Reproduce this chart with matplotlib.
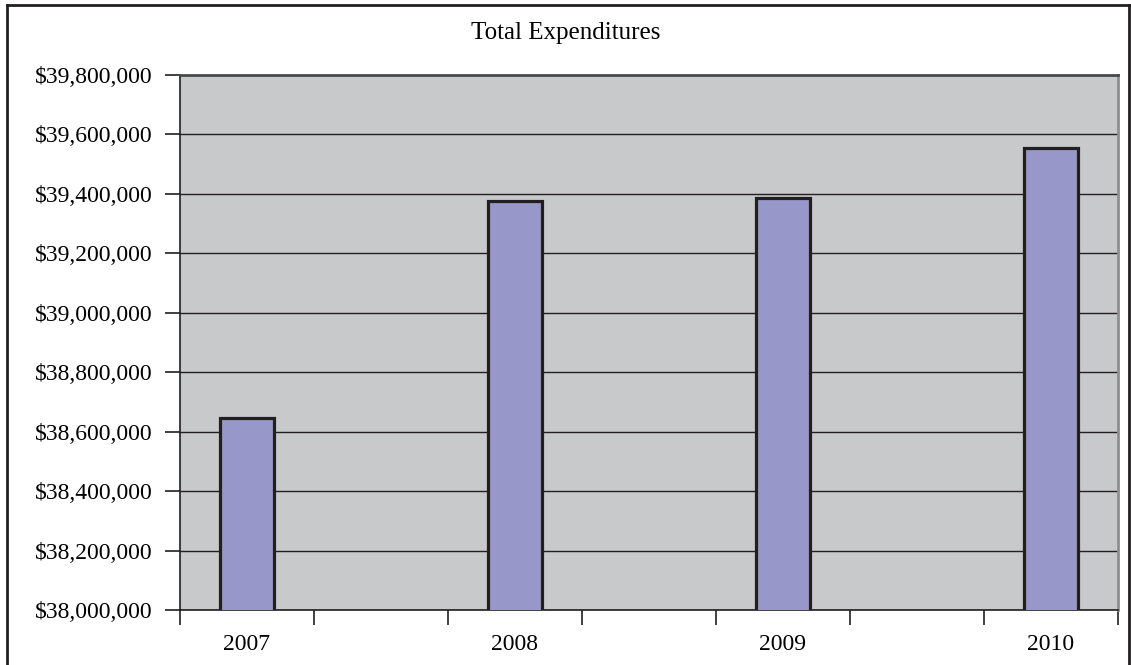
import matplotlib.pyplot as plt
from matplotlib.lines import Line2D
from matplotlib.ticker import FuncFormatter, MultipleLocator

plt.rcParams['font.family'] = ['Liberation Serif', 'DejaVu Serif']

# データ
years = ['2007', '2008', '2009', '2010']
expenditures = [38646000, 39377000, 39387000, 39554000]
slots = [0, 2, 4, 6]  # 7スロットの日付軸のうち棒があるところ

fig = plt.figure(figsize=(11.31, 6.65), dpi=100)
ax = fig.add_axes([180 / 1131, 1 - 610 / 665, (1118 - 180) / 1131, (610 - 75) / 665])
ax.set_facecolor('#C8C9CB')

ax.bar(slots, expenditures, width=0.41, bottom=0, color='#9797C9',
       edgecolor='#231F20', linewidth=2.3, zorder=3)

ax.set_ylim(38000000, 39800000)
ax.set_xlim(-0.5, 6.5)
ax.yaxis.set_major_locator(MultipleLocator(200000))
ax.yaxis.set_major_formatter(FuncFormatter(lambda v, p: '${:,.0f}'.format(v)))
ax.grid(axis='y', color='#231F20', linewidth=1.0, zorder=1)

ax.set_xticks([s - 0.5 for s in range(8)], minor=True)
ax.set_xticks(slots)
ax.set_xticklabels(years)
ax.tick_params(axis='x', which='major', length=0, pad=17, labelsize=17)
ax.tick_params(axis='x', which='minor', length=11, width=1.2, direction='out', color='#231F20')
ax.tick_params(axis='y', length=11, width=1.2, color='#231F20', pad=9, labelsize=17)

for side in ['left', 'bottom']:
    ax.spines[side].set_color('#231F20')
    ax.spines[side].set_linewidth(1.2)
for side in ['top', 'right']:
    ax.spines[side].set_color('#8E8E8E')
    ax.spines[side].set_linewidth(2.0)
ax.spines['top'].set_color('#4A4A4A')

fig.text(0.5, 1 - 33 / 665, 'Total Expenditures', ha='center', va='center', fontsize=18)

# 外枠
fig.add_artist(Line2D([7 / 1131, 7 / 1131], [0, 1 - 5 / 665], transform=fig.transFigure, color='#231F20', lw=2))
fig.add_artist(Line2D([7 / 1131, 1129 / 1131], [1 - 5 / 665, 1 - 5 / 665], transform=fig.transFigure, color='#231F20', lw=2))
fig.add_artist(Line2D([1129 / 1131, 1129 / 1131], [0, 1 - 5 / 665], transform=fig.transFigure, color='#231F20', lw=2))

fig.savefig('out.png', dpi=100)
